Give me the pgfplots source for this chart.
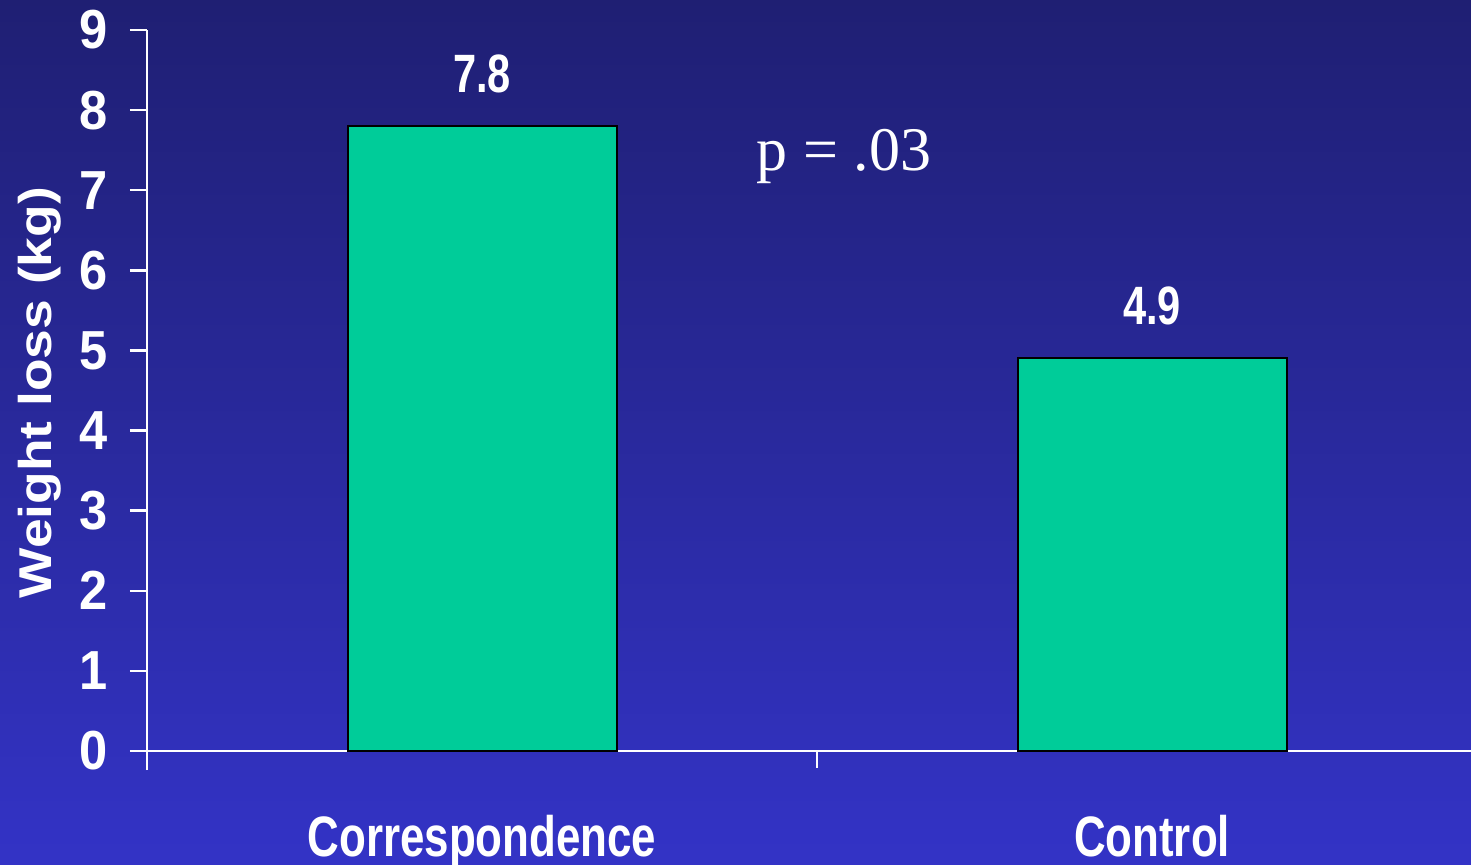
\documentclass[border=0pt]{standalone}
\usepackage{fontspec}
\setmainfont{Liberation Sans}
\newfontfamily\narrowsf{Liberation Sans}[FakeStretch=0.77]
\newfontfamily\ticksf{Liberation Sans}[FakeStretch=0.92]
\newfontfamily\widesf{Liberation Sans}[FakeStretch=1.16]
\newfontfamily\pserif{Liberation Serif}
\usepackage{pgfplots}
\pgfplotsset{compat=1.18}
\definecolor{bgtop}{HTML}{1F1F73}
\definecolor{bgbot}{HTML}{3333C6}
\definecolor{barfill}{HTML}{00CC99}

\begin{document}
\begin{tikzpicture}
\shade[top color=bgtop, bottom color=bgbot] (0,0) rectangle (735.5pt,432.5pt);
\begin{scope}
\clip (0,0) rectangle (735.5pt,432.5pt);
\begin{axis}[
    at={(73.5pt,47.4pt)}, anchor=south west,
    scale only axis, width=670pt, height=370.1pt,
    xmin=0, xmax=2, ymin=-0.24, ymax=9,
    axis y line*=left, axis x line*=middle,
    axis line style={white, line width=1.2pt, -},
    ytick={0,1,...,9},
    xtick={0,1,2}, xticklabels={},
    extra x ticks={0.5,1.5},
    extra x tick labels={Correspondence,Control},
    extra x tick style={major tick length=0pt},
    tick align=outside,
    major tick length=8.5pt,
    major tick style={white, line width=1.2pt},
    /pgf/number format/assume math mode=true,
    yticklabel style={white, anchor=east, inner sep=0pt, xshift=-11pt,
        font=\ticksf\bfseries\fontsize{27.5pt}{30pt}\selectfont},
    xticklabel style={white, anchor=base, inner sep=0pt, yshift=-53pt,
        font=\narrowsf\bfseries\fontsize{28.5pt}{31pt}\selectfont},
    ylabel={Weight loss (kg)},
    ylabel style={white, at={(axis description cs:-0.08,0.51)}, anchor=center,
        font=\widesf\bfseries\fontsize{23pt}{26pt}\selectfont},
    clip=false,
]
\addplot[ybar, bar width=134.5pt, fill=barfill, draw=black, line width=1pt,
    nodes near coords={\pgfmathprintnumber{\pgfplotspointmeta}},
    every node near coord/.append style={white, anchor=base, inner sep=0pt, yshift=17pt,
        font=\narrowsf\bfseries\fontsize{27pt}{30pt}\selectfont}]
    coordinates {(0.5,7.8) (1.5,4.9)};
\node[white, anchor=base, font=\pserif\fontsize{31pt}{34pt}\selectfont]
    at (axis cs:1.04,7.25) {p = .03};
\end{axis}
\end{scope}
\pgfresetboundingbox
\useasboundingbox (0,0) rectangle (735.5pt,432.5pt);
\end{tikzpicture}
\end{document}
